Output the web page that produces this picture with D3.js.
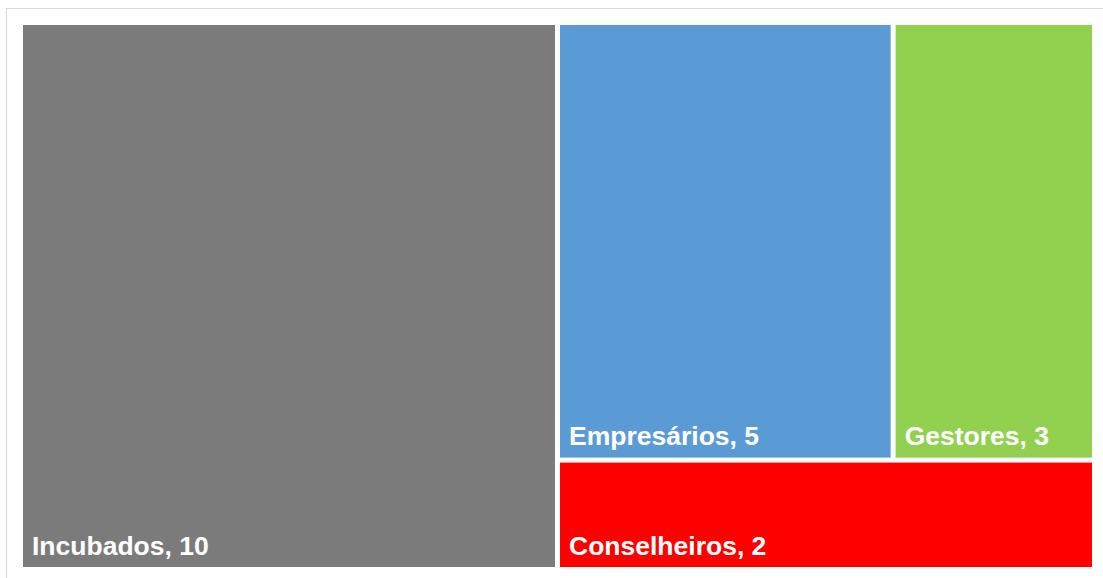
<!DOCTYPE html>
<html>
<head>
<meta charset="utf-8">
<script src="https://cdn.jsdelivr.net/npm/d3@7"></script>
<style>
  html, body { margin: 0; padding: 0; background: #ffffff; }
  svg { display: block; }
</style>
</head>
<body>
<svg id="chart" width="1103" height="578"></svg>
<script>
// Participants by group
const categories = ["Incubados", "Empresários", "Gestores", "Conselheiros"];
const values = [10, 5, 3, 2];
const colors = ["#7b7b7b", "#5b9bd5", "#92d050", "#ff0000"];

const W = 1103, H = 578;
const plot = { x0: 23, y0: 25, x1: 1092, y1: 567 };

const svg = d3.select("#chart");

// chart frame
svg.append("rect")
  .attr("x", 6.5).attr("y", 8.5)
  .attr("width", W + 10).attr("height", H + 10)
  .attr("fill", "none")
  .attr("stroke", "#d9d9d9")
  .attr("stroke-width", 1);

const root = d3.hierarchy({
  children: categories.map((name, i) => ({ name, value: values[i], color: colors[i] }))
}).sum(d => d.value || 0)
  .sort((a, b) => b.value - a.value);

d3.treemap()
  .tile(d3.treemapSquarify)
  .size([plot.x1 - plot.x0, plot.y1 - plot.y0])
  .paddingInner(5)
  .round(false)(root);

const g = svg.append("g").attr("transform", `translate(${plot.x0},${plot.y0})`);

const cell = g.selectAll("g.cell")
  .data(root.leaves())
  .join("g")
  .attr("class", "cell");

cell.append("rect")
  .attr("x", d => d.x0)
  .attr("y", d => d.y0)
  .attr("width", d => d.x1 - d.x0)
  .attr("height", d => d.y1 - d.y0)
  .attr("fill", d => d.data.color);

cell.append("text")
  .attr("x", d => d.x0 + 9)
  .attr("y", d => d.y1 - 12.5)
  .attr("fill", "#ffffff")
  .attr("font-family", "'Liberation Sans', Arial, sans-serif")
  .attr("font-weight", "bold")
  .attr("font-size", "26.5px")
  .text(d => `${d.data.name}, ${d.data.value}`);
</script>
</body>
</html>
